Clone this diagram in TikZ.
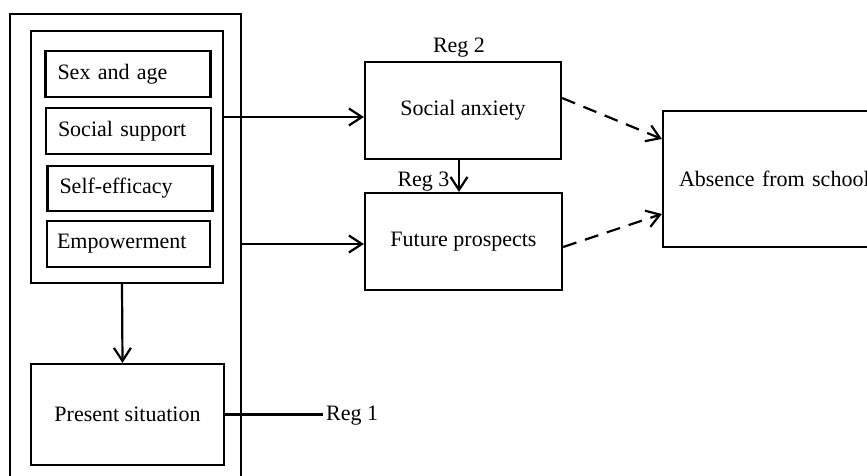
\documentclass[tikz,border=0pt]{standalone}
\usepackage{fontspec}
\setmainfont{Liberation Serif}
\usetikzlibrary{arrows.meta}
\begin{document}
\begin{tikzpicture}[x=1pt,y=-1pt,
  every node/.style={font=\fontsize{22}{26}\selectfont},
  box/.style={draw,line width=2.2pt,inner sep=0pt},
  itembox/.style={box,minimum height=46pt,text width=141pt,inner xsep=12pt,align=left},
  arr/.style={line width=2.2pt,-{Straight Barb[length=13pt,width=17pt,line width=2.2pt]}},
  dsh/.style={arr,dash pattern=on 14pt off 9pt},
  plain/.style={line width=2.2pt}]
\useasboundingbox (0,0) rectangle (867,476);
\node[box,minimum width=231pt,minimum height=490pt] (outer) at (125.5,259) {};
\node[box,minimum width=192pt,minimum height=252pt] (inner) at (127,157) {};
\node[itembox] (sex) at (128,74) {\mbox{Sex and age}};
\node[itembox] (sup) at (128.5,131) {\mbox{Social support}};
\node[itembox,minimum height=45pt] (eff) at (130,188.5) {\mbox{Self-efficacy}};
\node[itembox,text width=143pt,inner xsep=10pt] (emp) at (128.5,244) {\mbox{Empowerment}};
\node[box,minimum width=193pt,minimum height=101pt] (pres) at (127.5,414.5) {Present situation};
\node[box,minimum width=196pt,minimum height=97pt] (sa) at (463,110.5) {Social anxiety};
\node[box,minimum width=197pt,minimum height=97pt] (fp) at (463.5,241.5) {Future prospects};
\node[box,minimum height=136pt,text width=204pt,inner xsep=16pt,align=left] (abs) at (781,179) {\mbox{Absence from school}};
\node[inner sep=3pt,anchor=west] (reg1) at (323,416) {Reg 1};
\node[inner sep=0pt] (reg2) at (459,48) {Reg 2};
\node[inner sep=0pt] (reg3) at (423.5,182) {Reg 3};
\coordinate (c1) at ([yshift=40pt]inner.east);
\draw[arr] (c1) -- (c1 -| sa.west);
\draw[arr] (emp -| outer.east) -- (emp -| fp.west);
\draw[arr] ([xshift=-5pt]inner.south) -- ([xshift=-5pt]pres.north);
\draw[arr] ([xshift=-4pt]sa.south) -- ([xshift=-4pt]sa.south |- fp.north);
\draw[dsh] ([yshift=12.5pt]sa.east) -- ([yshift=40pt]abs.west);
\draw[dsh] ([yshift=-5.5pt]fp.east) -- ([yshift=-35pt]abs.west);
\draw[plain] (pres.east) -- (pres.east -| reg1.west);
\end{tikzpicture}
\end{document}
